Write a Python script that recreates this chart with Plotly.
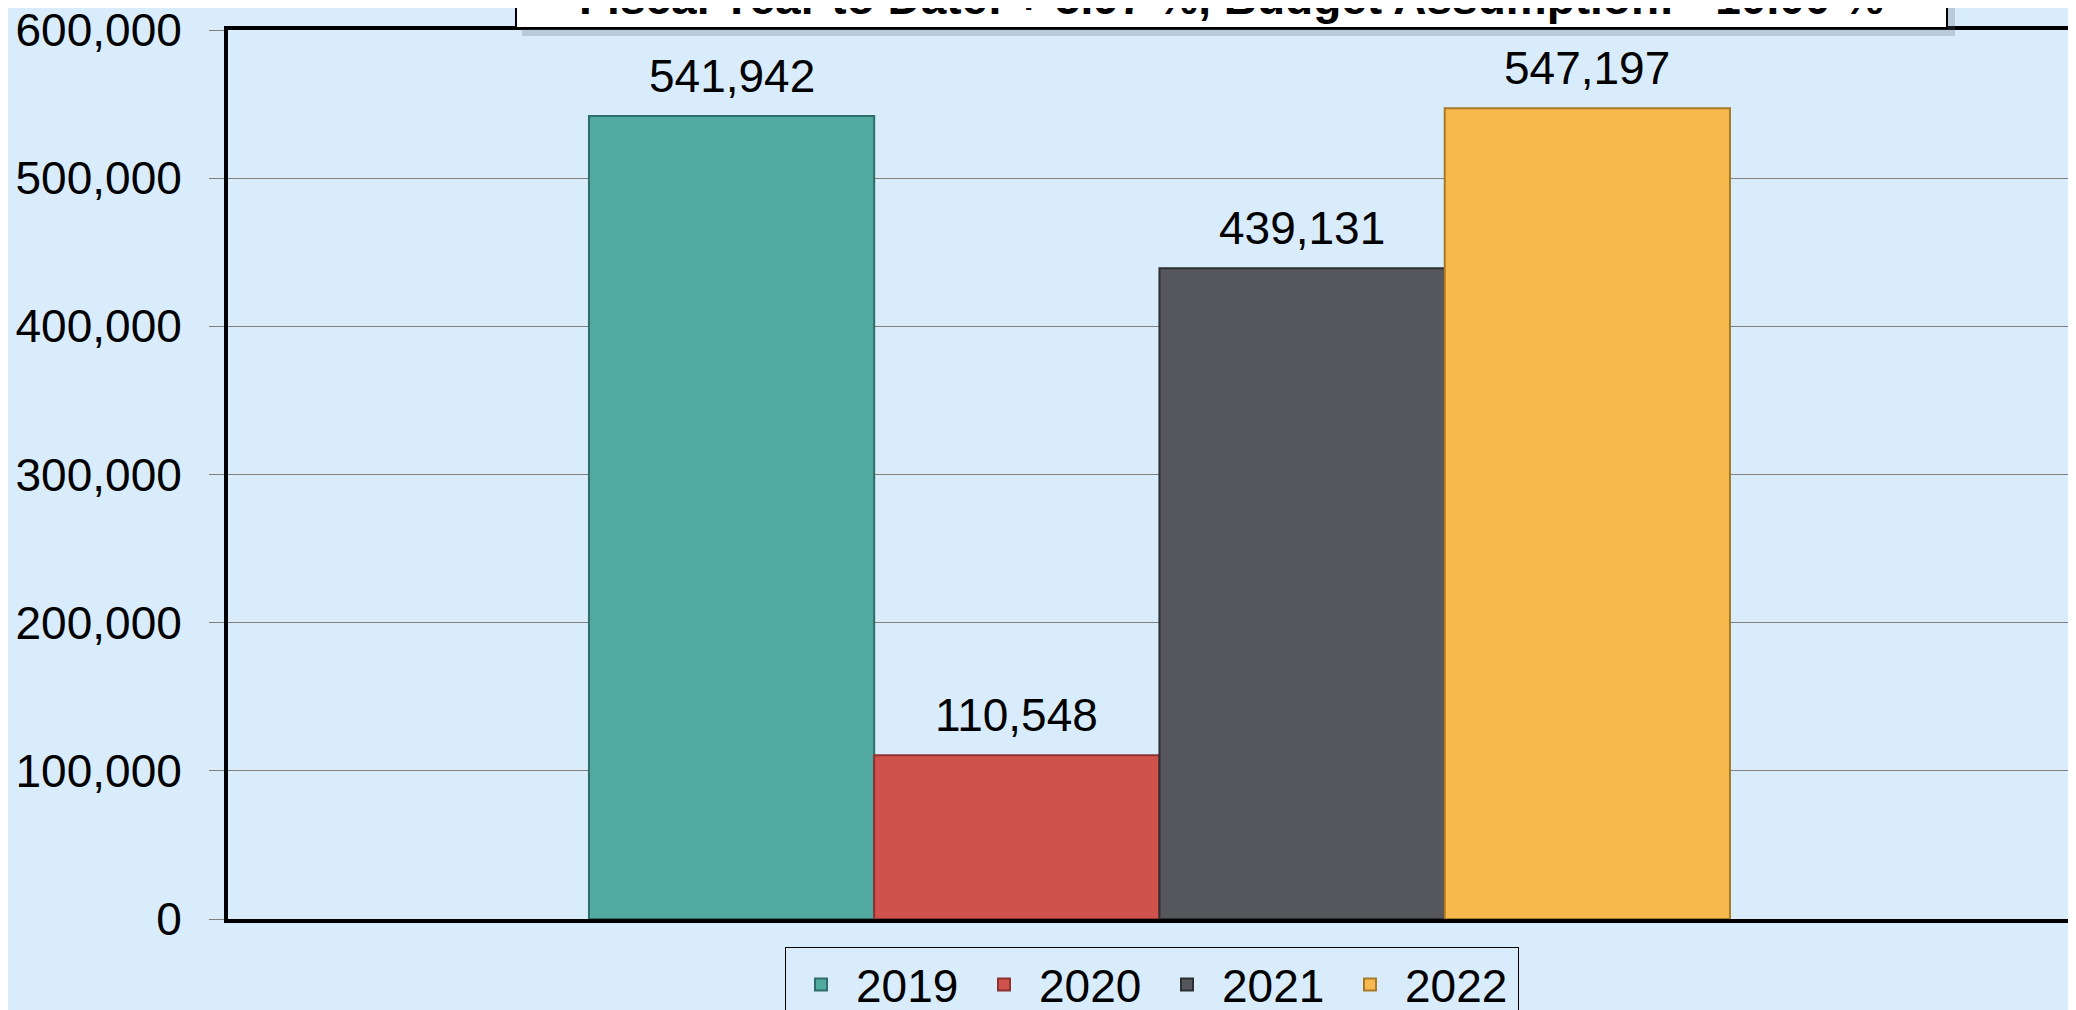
import plotly.graph_objects as go

categories = ["Total"]
years = ["2019", "2020", "2021", "2022"]
values = [541942, 110548, 439131, 547197]
colors = ["#52A9A0", "#D0524C", "#56575C", "#F7B94D"]
edge_colors = ["#2E6E68", "#8E3230", "#2E2F33", "#A87A28"]
y_ticks = [0, 100000, 200000, 300000, 400000, 500000, 600000]
y_tick_labels = ["0", "100,000", "200,000", "300,000", "400,000", "500,000", "600,000"]
title_text = "Fiscal Year to Date: + 5.97 %, Budget Assumption: - 10.00 %"

BG = "#D8ECFB"
FONT = "Liberation Sans, Arial, Helvetica, sans-serif"

# the page body adds a small offset; size the figure to fill the window
OFFX, OFFY = 8, 6
W, H = 2076 - OFFX, 1010 - OFFY
ML, MR, MT, MB = 228 - OFFX, 0, 28 - OFFY, 93
PW = W - ML - MR
PH = H - MT - MB

X_RANGE = [-0.5, 0.492]
BARGAP = 0.3875
px_per_unit = PW / (X_RANGE[1] - X_RANGE[0])
bar_px = (1 - BARGAP) / len(years) * px_per_unit

fig = go.Figure()
for i, (yr, v, c, ec) in enumerate(zip(years, values, colors, edge_colors)):
    fig.add_trace(go.Bar(
        x=categories, y=[v], name=yr,
        marker=dict(color=c, line=dict(color=ec, width=2)),
        cliponaxis=False,
    ))
    fig.add_annotation(
        x=categories[0], y=v, xref="x", yref="y",
        xshift=(i - (len(years) - 1) / 2) * bar_px, yshift=12,
        xanchor="center", yanchor="bottom", showarrow=False,
        text=f"{v:,}", font=dict(size=46, color="black", family=FONT),
    )

# screen-pixel -> paper coordinates
def px_x(p):
    return (p - OFFX - ML) / PW

def px_y(p):
    return (H - MB - (p - OFFY)) / PH

# title box (cut off at top), with shadow
fig.add_shape(type="rect", xref="paper", yref="paper",
              x0=px_x(522), x1=px_x(1955), y0=px_y(34), y1=px_y(-60),
              fillcolor="rgba(90,100,120,0.25)", line=dict(width=0), layer="above")
fig.add_shape(type="rect", xref="paper", yref="paper",
              x0=px_x(516), x1=px_x(1947), y0=px_y(26), y1=px_y(-60),
              fillcolor="white", line=dict(color="black", width=2), layer="above")
fig.add_annotation(xref="paper", yref="paper", x=px_x(1231), y=px_y(24),
                   xanchor="center", yanchor="bottom", showarrow=False,
                   text="<b>" + title_text + "</b>",
                   font=dict(size=46, color="black", family=FONT))

fig.update_layout(
    width=W, height=H,
    margin=dict(l=ML, r=MR, t=MT, b=MB, pad=0, autoexpand=False),
    paper_bgcolor=BG, plot_bgcolor=BG,
    barmode="group", bargap=BARGAP, bargroupgap=0,
    font=dict(family=FONT, size=46, color="black"),
    showlegend=True,
    legend=dict(
        orientation="h", x=px_x(785), y=px_y(945), xanchor="left", yanchor="top",
        bgcolor=BG, bordercolor="black", borderwidth=1,
        font=dict(size=46, family=FONT, color="black"),
        itemwidth=60,
        entrywidth=108, entrywidthmode="pixels",
        traceorder="normal",
    ),
    xaxis=dict(
        range=X_RANGE, showticklabels=False, ticks="",
        showline=True, linecolor="black", linewidth=4, mirror=True,
        showgrid=False, zeroline=False, fixedrange=True, automargin=False,
    ),
    yaxis=dict(
        range=[0, 600000], tickvals=y_ticks, ticktext=y_tick_labels,
        showline=True, linecolor="black", linewidth=4,
        showgrid=True, gridcolor="#7F7F7F", gridwidth=1,
        ticks="outside", ticklen=15, tickcolor="#7F7F7F", tickwidth=1,
        ticklabelstandoff=18, automargin=False, ticklabeloverflow="allow",
        tickfont=dict(size=46, family=FONT, color="black"),
        zeroline=False, fixedrange=True,
    ),
)

fig.write_html("out.html")
